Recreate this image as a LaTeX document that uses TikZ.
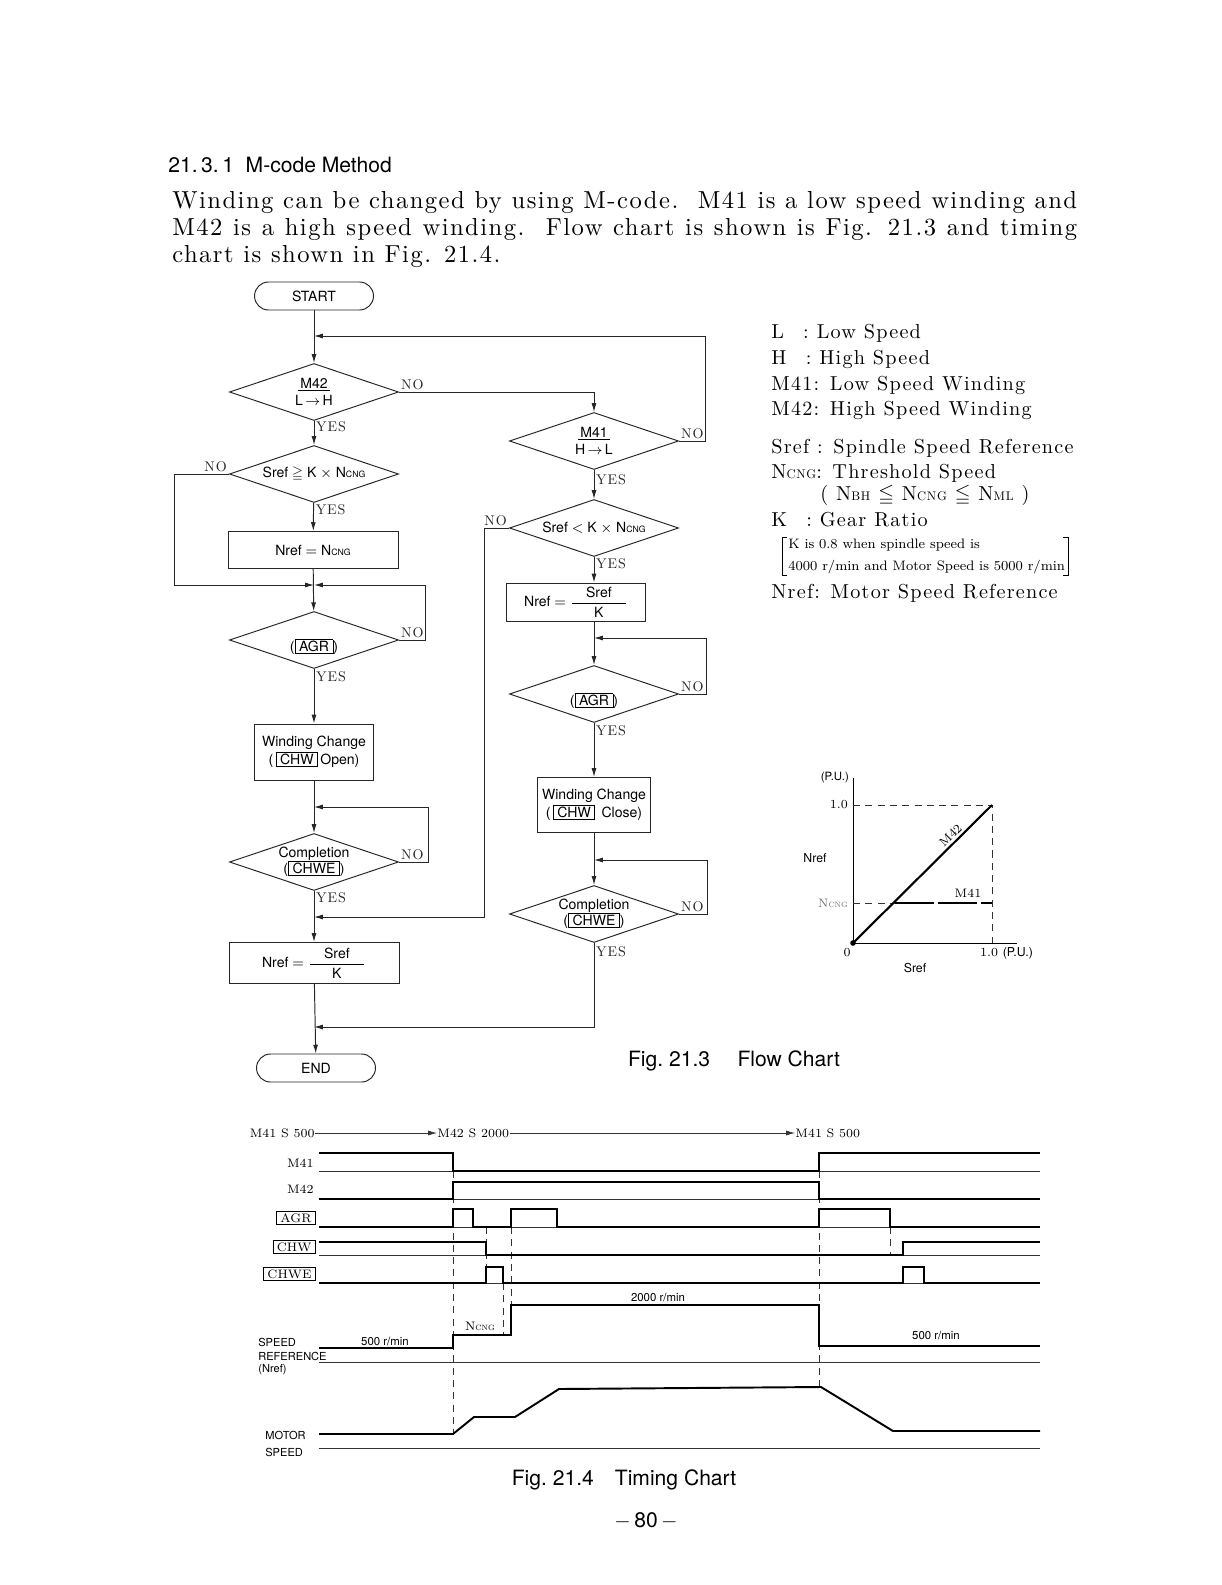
\documentclass[tikz,border=0pt]{standalone}
\usepackage{fontspec}
\setsansfont{TeX Gyre Heros}
\newfontfamily\spacedrm{lmroman10-regular.otf}[LetterSpace=6]
\usepackage{amsmath,amssymb}
\usetikzlibrary{positioning, arrows.meta, shapes.geometric}

\newcommand{\sigbox}[1]{{\setlength{\fboxsep}{0.7pt}\setlength{\fboxrule}{0.5pt}\fbox{\,#1\,}}}
\newcommand{\lowsub}[1]{\scalebox{0.62}{#1}}
\newcommand{\ncng}{N\lowsub{CNG}}

\begin{document}
\begin{tikzpicture}[
    x=0.02cm, y=-0.02cm,
    >={Latex[length=5pt,width=2.8pt]},
    flow/.style={line width=0.55pt, black!85},
    arr/.style={flow, ->},
    terminal/.style={
        rectangle, rounded corners=0.28cm, draw=black!85, line width=0.55pt,
        minimum width=2.38cm, minimum height=0.56cm,
        font=\sffamily\fontsize{8}{9}\selectfont
    },
    decision/.style={
        diamond, draw=black!85, line width=0.55pt, aspect=3, inner sep=0pt,
        minimum width=3.38cm, minimum height=1.14cm, align=center,
        font=\sffamily\fontsize{8}{9}\selectfont
    },
    process/.style={
        rectangle, draw=black!85, line width=0.55pt, inner sep=1pt, align=center,
        font=\sffamily\fontsize{8}{10}\selectfont
    },
    yn/.style={font=\spacedrm\fontsize{8}{9}\selectfont, inner sep=1pt},
    legend/.style={anchor=west, inner sep=0pt, font=\spacedrm\fontsize{11.5}{13}\selectfont},
    note/.style={anchor=west, inner sep=0pt, font=\fontsize{7.8}{9}\selectfont},
    plot/.style={line width=0.5pt},
    plotlbl/.style={inner sep=1pt, font=\fontsize{7}{8}\selectfont},
    sig/.style={line width=1.1pt, line join=miter},
    base/.style={line width=0.4pt, black!80},
    guide/.style={line width=0.4pt, black!80, dash pattern=on 4pt off 3pt},
    tlbl/.style={inner sep=0pt, font=\fontsize{7}{8}\selectfont},
    slbl/.style={inner sep=0pt, anchor=west, font=\sffamily\fontsize{6.3}{7}\selectfont},
    caption/.style={font=\sffamily\fontsize{12}{14}\selectfont},
    textline/.style={anchor=west, inner sep=0pt, font=\spacedrm\fontsize{14}{16}\selectfont},
]

% Page frame
\fill[white] (0,0) rectangle (1221,1585);
\useasboundingbox (0,0) rectangle (1221,1585);

% Heading and text
\node[anchor=west, inner sep=0pt, font=\sffamily\fontsize{12}{14}\selectfont] (sec_title) at (168,165) {21.\,3.\,1\ \ M-code Method};
\node[textline] (para_a) at (172,202)
    {\makebox[18.1cm][s]{Winding can be changed by using M-code.\ \ M41 is a low speed winding and}};
\node[textline] (para_b) at (172,229)
    {\makebox[18.1cm][s]{M42 is a high speed winding.\ \ Flow chart is shown is Fig. 21.3 and timing}};
\node[textline] (para_c) at (172,256) {chart is shown in Fig. 21.4.};

% Left column: M42 (L -> H)
\node[terminal] (start) at (314,296) {START};
\node[decision] (m42) at (314,392) {\underline{\,M42\,}\\[1pt]L\,$\rightarrow$\,H};
\node[decision] (sref_hi) at (314,474) {Sref $\geqq$ K $\times$ \ncng};
\node[process, minimum width=3.4cm, minimum height=0.74cm] (nref_cng) at (313,550) {Nref $=$ \ncng};
\node[decision] (agr_lo) at (314,640) {\rule{0pt}{15pt}(\sigbox{AGR})};
\node[process, minimum width=2.38cm, minimum height=1.12cm] (wc_lo) at (314,752) {Winding Change\\(\,\sigbox{CHW}\,Open)};
\node[decision] (chwe_lo) at (314,862) {Completion\\(\sigbox{CHWE})};
\node[process, minimum width=3.4cm, minimum height=0.82cm] (nref_lo) at (314,963)
    {Nref $=$ $\dfrac{\text{\quad Sref\quad}}{\text{K}}$};
\node[terminal] (stop) at (316,1068) {END};

% Right column: M41 (H -> L)
\node[decision] (m41) at (594,441) {\underline{\,M41\,}\\[1pt]H\,$\rightarrow$\,L};
\node[decision] (sref_lo) at (594,528) {Sref $<$ K $\times$ \ncng};
\node[process, minimum width=2.78cm, minimum height=0.76cm] (nref_hi) at (576,602)
    {Nref $=$ $\dfrac{\text{\quad Sref\quad}}{\text{K}}$};
\node[decision] (agr_hi) at (594,694) {\rule{0pt}{15pt}(\sigbox{AGR})};
\node[process, minimum width=2.26cm, minimum height=1.1cm] (wc_hi) at (594,805) {Winding Change\\(\,\sigbox{CHW}\,\ Close)};
\node[decision] (chwe_hi) at (594,914) {Completion\\(\sigbox{CHWE})};

% Merge points and return lanes
\coordinate (j_top) at (314,336);
\coordinate (lane_top) at (705,336);
\coordinate (j_mid) at (314,585);
\coordinate (lane_no) at (174,585);
\coordinate (lane_agr) at (425,585);
\coordinate (j_chwe) at (314,807);
\coordinate (lane_chwe) at (428,807);
\coordinate (j_nref) at (314,917);
\coordinate (lane_ret) at (484,917);
\coordinate (j_end) at (314,1027);
\coordinate (lane_end) at (594,1027);
\coordinate (j_agr) at (594,638);
\coordinate (lane_agr_hi) at (706,638);
\coordinate (j_wc) at (594,860);
\coordinate (lane_wc) at (707,860);

% Left column flow
\draw[arr] (start) -- (m42);
\draw[arr] (m42) -- node[yn, pos=0.25, anchor=west]{YES} (sref_hi);
\draw[arr] (m42.east) node[yn, anchor=south west]{NO} -| (m41.north);
\draw[arr] (sref_hi) -- node[yn, pos=0.25, anchor=west]{YES} (nref_cng);
\draw[arr] (sref_hi.west) node[yn, anchor=south east]{NO} -| (lane_no) -- (j_mid);
\draw[arr] (nref_cng) -- (agr_lo);
\draw[arr] (agr_lo.east) node[yn, anchor=south west]{NO} -| (lane_agr) -- (j_mid);
\draw[arr] (agr_lo) -- node[yn, pos=0.15, anchor=west]{YES} (wc_lo);
\draw[arr] (wc_lo) -- (chwe_lo);
\draw[arr] (chwe_lo.east) node[yn, anchor=south west]{NO} -| (lane_chwe) -- (j_chwe);
\draw[arr] (chwe_lo) -- node[yn, pos=0.13, anchor=west]{YES} (nref_lo);
\draw[arr] (nref_lo) -- (stop);

% Right column flow
\draw[arr] (m41.east) node[yn, anchor=south west]{NO} -| (lane_top) -- (j_top);
\draw[arr] (m41) -- node[yn, pos=0.35, anchor=west]{YES} (sref_lo);
\draw[arr] (sref_lo.west) node[yn, anchor=south east]{NO} -| (lane_ret) -- (j_nref);
\draw[arr] (sref_lo) -- node[yn, pos=0.25, anchor=west]{YES} (sref_lo.south |- nref_hi.north);
\draw[arr] (nref_hi.south -| agr_hi.north) -- (agr_hi);
\draw[arr] (agr_hi.east) node[yn, anchor=south west]{NO} -| (lane_agr_hi) -- (j_agr);
\draw[arr] (agr_hi) -- node[yn, pos=0.15, anchor=west]{YES} (wc_hi);
\draw[arr] (wc_hi) -- (chwe_hi);
\draw[arr] (chwe_hi.east) node[yn, anchor=south west]{NO} -| (lane_wc) -- (j_wc);
\draw[arr] (chwe_hi.south) -- node[yn, pos=0.1, anchor=west]{YES} (lane_end) -- (j_end);

% Legend
\node[legend] (leg_l) at (771,333) {L\ \ \,: Low Speed};
\node[legend] (leg_h) at (771,359) {H\ \ \,: High Speed};
\node[legend] (leg_m41) at (771,385) {M41: Low Speed Winding};
\node[legend] (leg_m42) at (771,410) {M42: High Speed Winding};
\node[legend] (leg_sref) at (771,448) {Sref : Spindle Speed Reference};
\node[legend] (leg_ncng) at (771,473) {\ncng: Threshold Speed};
\node[legend] (leg_range) at (820,495) {(\ N\lowsub{BH} $\leqq$ \ncng\ $\leqq$ N\lowsub{ML}\ )};
\node[legend] (leg_k) at (771,520) {K\ \ \,: Gear Ratio};
\node[note] (note_a) at (788,545) {K is 0.8 when spindle speed is};
\node[note] (note_b) at (788,567) {4000 r/min and Motor Speed is 5000 r/min};
\draw[plot] (787,537) -- (782,537) -- (782,575) -- (787,575);
\draw[plot] (1063,537) -- (1068,537) -- (1068,575) -- (1063,575);
\node[legend] (leg_nref) at (771,593) {Nref: Motor Speed Reference};

% Nref / Sref characteristic
\draw[plot] (853,778) -- (853,943) -- (1017,943);
\draw[guide] (853,805) -- (992,805) -- (992,943);
\draw[guide] (853,903) -- (895,903);
\draw[line width=1.2pt] (853,943) -- (992,805);
\draw[line width=1.1pt, dash pattern=on 22pt off 2.5pt] (895,903) -- (992,903);
\fill (853,943) circle (1.6pt);
\node[plotlbl, anchor=east, font=\sffamily\fontsize{6.5}{7}\selectfont] (pu_y) at (851,778) {(P.U.)};
\node[plotlbl, anchor=east] (one_y) at (850,805) {1.0};
\node[plotlbl, font=\sffamily\fontsize{7}{8}\selectfont] (nref_axis) at (815,858) {Nref};
\node[plotlbl, anchor=east, text=black!55] (ncng_y) at (850,903) {\ncng};
\node[plotlbl, rotate=45, anchor=south] (m42_line) at (955,840) {M42};
\node[plotlbl] (m41_line) at (968,893) {M41};
\node[plotlbl] (zero_x) at (847,953) {0};
\node[plotlbl, anchor=west] (one_x) at (978,953) {1.0 {\sffamily(P.U.)}};
\node[plotlbl, font=\sffamily\fontsize{7}{8}\selectfont] (sref_axis) at (915,968) {Sref};

% Flow chart caption
\node[caption] (cap_flow) at (734,1061) {Fig.\ 21.3\hspace{1.3em}Flow Chart};

% Timing chart: commands
\node[tlbl, anchor=east] (cmd_a) at (315,1133) {M41 S 500};
\node[tlbl, anchor=west] (cmd_b) at (437,1133) {M42 S 2000};
\node[tlbl, anchor=west] (cmd_c) at (795,1133) {M41 S 500};
\draw[base, ->] (cmd_a.east) -- (cmd_b.west);
\draw[base, ->] (cmd_b.east) -- (cmd_c.west);

% Timing chart: signal names
\node[tlbl, anchor=east] (t_m41) at (314,1163) {M41};
\node[tlbl, anchor=east] (t_m42) at (314,1189) {M42};
\node[tlbl, anchor=east] (t_agr) at (316,1218) {\sigbox{AGR}};
\node[tlbl, anchor=east] (t_chw) at (316,1247) {\sigbox{CHW}};
\node[tlbl, anchor=east] (t_chwe) at (316,1274) {\sigbox{CHWE}};
\node[slbl] (t_speed) at (258,1342) {SPEED};
\node[slbl] (t_ref) at (258,1356) {REFERENCE};
\node[slbl] (t_nref) at (258,1370) {(Nref)};
\node[slbl] (t_motor) at (265,1435) {MOTOR};
\node[slbl] (t_mspeed) at (265,1452) {SPEED};

% Timing chart: base lines
\foreach \yb in {1171,1199,1227,1255,1283,1362,1448}
    \draw[base] (319,\yb) -- (1040,\yb);

% Timing chart: switching instants
\draw[guide] (453,1171) -- (453,1435);
\draw[guide] (486,1227) -- (486,1283);
\draw[guide] (503,1283) -- (503,1335);
\draw[guide] (511,1227) -- (511,1305);
\draw[guide] (819,1171) -- (819,1387);
\draw[guide] (890,1227) -- (890,1255);

% Timing chart: signals
\draw[sig] (319,1153) -- (453,1153) -- (453,1171) -- (819,1171) -- (819,1153) -- (1040,1153);
\draw[sig] (319,1199) -- (453,1199) -- (453,1182) -- (819,1182) -- (819,1199) -- (1040,1199);
\draw[sig] (319,1227) -- (453,1227) -- (453,1209) -- (473,1209) -- (473,1227) -- (511,1227)
    -- (511,1209) -- (557,1209) -- (557,1227) -- (819,1227) -- (819,1209) -- (890,1209)
    -- (890,1227) -- (1040,1227);
\draw[sig] (319,1242) -- (486,1242) -- (486,1255) -- (903,1255) -- (903,1242) -- (1040,1242);
\draw[sig] (319,1283) -- (486,1283) -- (486,1267) -- (503,1267) -- (503,1283) -- (903,1283)
    -- (903,1267) -- (924,1267) -- (924,1283) -- (1040,1283);
\draw[sig] (319,1348) -- (453,1348) -- (453,1335) -- (511,1335) -- (511,1305) -- (819,1305)
    -- (819,1346) -- (1040,1346);
\draw[sig, line join=round] (319,1434) -- (453,1434) -- (474,1417) -- (515,1417) -- (559,1389)
    -- (821,1387) -- (893,1431) -- (1040,1431);

% Timing chart: speed values
\node[tlbl, font=\sffamily\fontsize{6.5}{7}\selectfont] (v_500a) at (385,1341) {500 r/min};
\node[tlbl] (v_ncng) at (480,1326) {\ncng};
\node[tlbl, font=\sffamily\fontsize{6.5}{7}\selectfont] (v_2000) at (658,1297) {2000 r/min};
\node[tlbl, font=\sffamily\fontsize{6.5}{7}\selectfont] (v_500b) at (936,1335) {500 r/min};

% Captions
\node[caption] (cap_time) at (624,1480) {Fig.\ 21.4\hspace{1em}Timing Chart};
\node[caption] (page_no) at (646,1521) {$-$\,80\,$-$};

\end{tikzpicture}
\end{document}
